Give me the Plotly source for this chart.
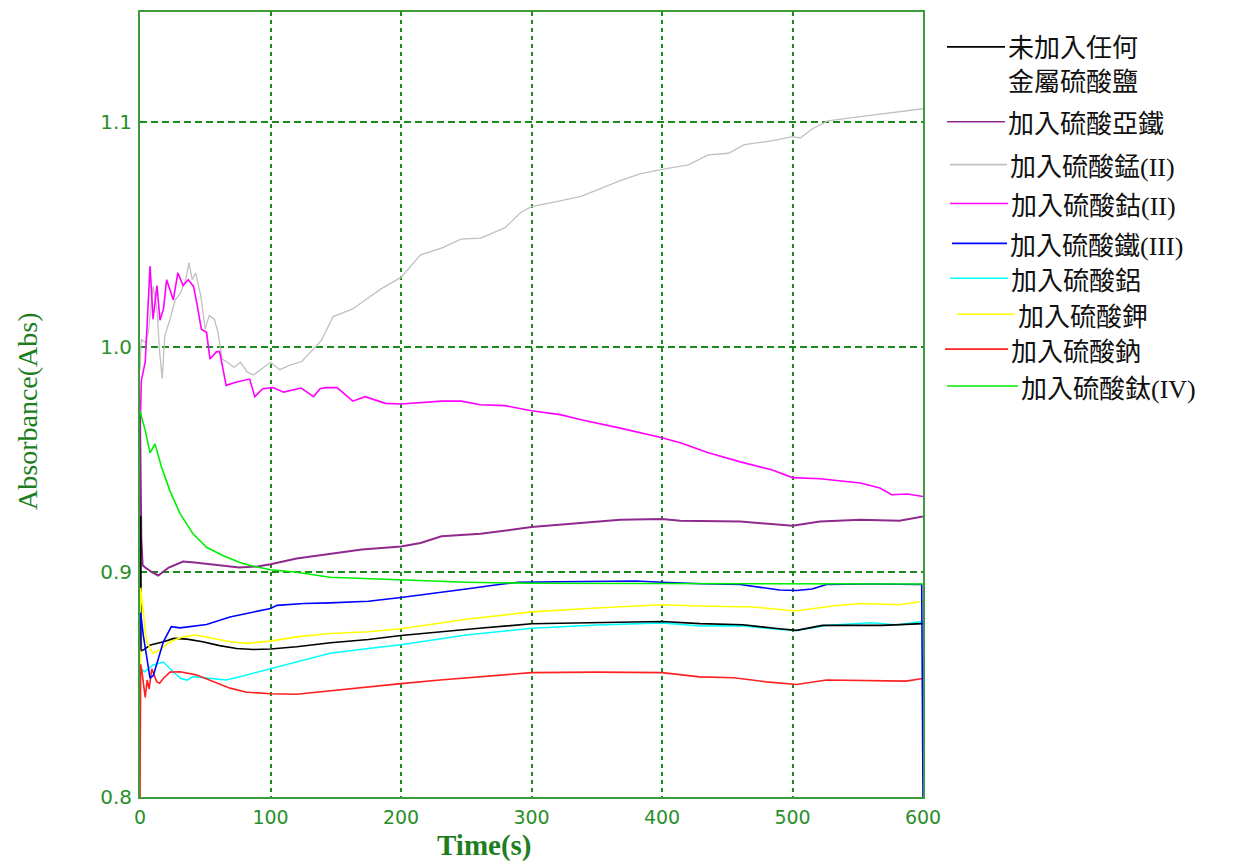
import plotly.graph_objects as go

# ---- data: absorbance vs time for each added sulfate ----
t_none = [0, 0.5, 1, 3, 8, 18, 26, 36, 48, 61, 74, 87, 100, 120, 146, 175, 200, 230, 260, 300, 340, 380, 400, 429, 462, 488, 503, 523, 569, 600]
a_none = [0.83, 0.925, 0.865, 0.8655, 0.8676, 0.869, 0.8705, 0.8702, 0.869, 0.8673, 0.866, 0.8656, 0.8658, 0.8668, 0.8686, 0.870, 0.8718, 0.8735, 0.875, 0.877, 0.8775, 0.8778, 0.878, 0.8771, 0.8766, 0.8749, 0.8741, 0.8763, 0.8763, 0.8771]

t_fe2 = [0, 0.5, 1, 2, 4, 9, 14, 22, 33, 42, 59, 76, 90, 100, 120, 146, 170, 200, 215, 231, 261, 300, 338, 368, 400, 414, 460, 500, 521, 552, 582, 600]
a_fe2 = [0.97, 0.94, 0.915, 0.903, 0.902, 0.900, 0.8985, 0.902, 0.9047, 0.9043, 0.9033, 0.902, 0.9025, 0.9035, 0.906, 0.908, 0.910, 0.9114, 0.9129, 0.9159, 0.917, 0.920, 0.9218, 0.9233, 0.9236, 0.9228, 0.9225, 0.9206, 0.9225, 0.9233, 0.9228, 0.9247]

t_mn = [0, 1, 4, 6.4, 10, 13, 15, 17, 19, 23, 27, 31, 35, 37.5, 40, 42.6, 46.5, 50, 53, 57, 59.7, 63, 67, 72, 77, 82, 87, 94.5, 100, 107, 115, 124, 133, 139, 148, 163, 175, 185, 200, 215, 231, 246, 261, 279.5, 292, 300, 322, 338, 368, 383, 400, 420, 435.5, 451, 463, 484, 500, 506, 515, 527, 552, 567, 582, 600]
a_mn = [0.99, 1.0035, 1.002, 1.0066, 1.027, 1.017, 0.998, 0.986, 1.005, 1.0124, 1.021, 1.024, 1.030, 1.0376, 1.030, 1.033, 1.023, 1.008, 1.014, 1.0124, 1.0066, 0.9947, 0.9933, 0.991, 0.9933, 0.989, 0.9876, 0.991, 0.9933, 0.990, 0.992, 0.9936, 0.999, 1.003, 1.0136, 1.017, 1.022, 1.026, 1.031, 1.041, 1.044, 1.048, 1.0485, 1.053, 1.060, 1.0625, 1.065, 1.067, 1.074, 1.077, 1.079, 1.081, 1.0855, 1.0862, 1.090, 1.0917, 1.0936, 1.093, 1.097, 1.1006, 1.1025, 1.1036, 1.105, 1.106]

t_co = [0, 1, 4, 7.7, 10, 13, 15.3, 18, 20.4, 25.5, 29, 33, 37, 41, 43.4, 47, 51, 53.6, 58.7, 61, 66, 74, 84, 88, 94, 102, 110, 123.5, 133, 138, 142, 151, 163, 172.5, 188, 200, 231, 246, 261, 279.5, 300, 322, 338, 368, 400, 414, 435.5, 460, 484, 500, 521, 552, 567, 576, 588, 600]
a_co = [0.96, 0.985, 0.9934, 1.036, 1.0124, 1.0274, 1.012, 1.017, 1.030, 1.021, 1.033, 1.0274, 1.030, 1.027, 1.020, 1.008, 1.0066, 0.9947, 0.998, 0.998, 0.983, 0.9845, 0.9858, 0.978, 0.9815, 0.982, 0.980, 0.9818, 0.978, 0.9815, 0.982, 0.982, 0.976, 0.978, 0.975, 0.9747, 0.976, 0.976, 0.9744, 0.974, 0.9717, 0.970, 0.9677, 0.964, 0.9597, 0.9575, 0.953, 0.949, 0.9455, 0.942, 0.9415, 0.9396, 0.9374, 0.9344, 0.9347, 0.9336]

t_fe3 = [0, 0.5, 2.5, 5, 7.7, 10.2, 12.8, 17.9, 24, 30.7, 51, 69, 81.7, 100, 105, 125.6, 145.6, 175, 200, 225, 250, 275, 290, 320, 350, 380, 400, 430, 460, 480, 490, 503, 515, 526, 560, 599, 600]
a_fe3 = [0.865, 0.882, 0.872, 0.863, 0.8528, 0.854, 0.8587, 0.869, 0.8757, 0.8752, 0.8767, 0.880, 0.8816, 0.8838, 0.8852, 0.886, 0.8863, 0.887, 0.8887, 0.8905, 0.8925, 0.8945, 0.8955, 0.8957, 0.896, 0.896, 0.8955, 0.8948, 0.8945, 0.893, 0.892, 0.8918, 0.8925, 0.8945, 0.8947, 0.8945, 0.80]

t_al = [0, 0.5, 3.6, 10, 18, 23, 31, 36, 41, 51, 66, 76.6, 100, 120, 145.6, 175, 200, 250, 300, 350, 400, 429, 460, 490, 503, 525, 560, 580, 600]
a_al = [0.8646, 0.857, 0.8557, 0.8587, 0.860, 0.857, 0.8528, 0.852, 0.8535, 0.8528, 0.852, 0.8535, 0.857, 0.860, 0.8639, 0.866, 0.8677, 0.872, 0.875, 0.8765, 0.8774, 0.876, 0.8762, 0.8745, 0.874, 0.8762, 0.8775, 0.8765, 0.8781]

t_k = [0, 0.5, 2, 5, 10, 15, 23, 33, 43, 53.6, 69, 81.7, 100, 120, 145.6, 175, 200, 250, 300, 350, 400, 429, 470, 502, 532, 552, 582, 600]
a_k = [0.80, 0.893, 0.885, 0.869, 0.8639, 0.8653, 0.869, 0.8712, 0.872, 0.8708, 0.869, 0.8683, 0.8693, 0.8712, 0.8727, 0.8735, 0.8748, 0.879, 0.8823, 0.884, 0.8855, 0.8849, 0.8845, 0.8827, 0.885, 0.886, 0.8855, 0.887]

t_na = [0, 0.5, 1.5, 3, 4, 5.5, 7, 9, 11, 12.8, 15, 18, 23, 30.7, 43, 53.6, 69, 81.7, 100, 120, 145.6, 175, 200, 230, 260, 300, 350, 400, 429, 455, 480, 503, 526, 569, 587, 600]
a_na = [0.80, 0.859, 0.8557, 0.850, 0.8443, 0.852, 0.848, 0.857, 0.854, 0.8513, 0.8506, 0.8528, 0.8555, 0.8557, 0.8543, 0.852, 0.8484, 0.8466, 0.8459, 0.8457, 0.8473, 0.849, 0.8504, 0.852, 0.8535, 0.8553, 0.8555, 0.8553, 0.8534, 0.853, 0.8512, 0.850, 0.852, 0.8515, 0.8515, 0.8527]

t_ti = [0, 4, 7.7, 11.5, 16.6, 23, 30.7, 40.6, 51, 63.8, 76.6, 84, 100, 120, 145.6, 175, 200, 250, 300, 400, 500, 600]
a_ti = [0.9716, 0.963, 0.953, 0.957, 0.9465, 0.936, 0.926, 0.917, 0.911, 0.9073, 0.9043, 0.903, 0.901, 0.8999, 0.8977, 0.897, 0.8965, 0.8955, 0.895, 0.8948, 0.8947, 0.8947]

names = ["未加入任何<br>金屬硫酸鹽", "加入硫酸亞鐵", "加入硫酸錳(II)", "加入硫酸鈷(II)",
         "加入硫酸鐵(III)", "加入硫酸鋁", "加入硫酸鉀", "加入硫酸鈉", "加入硫酸鈦(IV)"]
series_t = [t_none, t_fe2, t_mn, t_co, t_fe3, t_al, t_k, t_na, t_ti]
series_a = [a_none, a_fe2, a_mn, a_co, a_fe3, a_al, a_k, a_na, a_ti]
colors = ["#000000", "#8e2a8e", "#c0c0c0", "#ff00ff", "#0000ff", "#00ffff", "#ffff00", "#ff2020", "#00ee00"]
widths = [1.6, 2.0, 1.3, 1.6, 1.6, 1.6, 1.6, 1.6, 1.6]

# drawing order (later ones sit on top)
order = [2, 3, 1, 5, 0, 6, 7, 4, 8]

fig = go.Figure()
for i in order:
    fig.add_trace(go.Scatter(x=series_t[i], y=series_a[i], mode="lines", name=names[i],
                             line=dict(color=colors[i], width=widths[i])))

W, H = 1240, 863
L, R, T, B = 140, 317, 10, 66
pw, ph = W - L - R, H - T - B


def px(x):
    return (x - L) / pw


def py(y):
    return 1 - (y - T) / ph


def legend_label(name):
    # oxidation-state suffix is set in a serif face
    if "(" in name:
        head, tail = name.split("(", 1)
        return head + '<span style="font-family:Liberation Serif">(' + tail + "</span>"
    return name


green_axis = "#3c9c3c"
green_grid = "#1a8a1a"
green_text = "#2a8f2a"

fig.update_layout(
    width=W, height=H,
    margin=dict(l=L, r=R, t=T, b=B),
    plot_bgcolor="white", paper_bgcolor="white",
    showlegend=False,
    xaxis=dict(range=[0, 600], dtick=100, tick0=0,
               showgrid=True, gridcolor=green_grid, gridwidth=2, griddash="4px,4px",
               showline=True, linecolor=green_axis, linewidth=2, mirror=True,
               zeroline=False, ticks="", ticklabelstandoff=2, layer="below traces",
               tickfont=dict(family="DejaVu Sans", size=19, color=green_text)),
    yaxis=dict(range=[0.8, 1.149], tickvals=[0.8, 0.9, 1.0, 1.1], tickformat=".1f",
               showgrid=True, gridcolor=green_grid, gridwidth=2, griddash="7px,4px",
               showline=True, linecolor=green_axis, linewidth=2, mirror=True,
               zeroline=False, ticks="", ticklabelstandoff=2, layer="below traces",
               tickfont=dict(family="DejaVu Sans", size=20, color=green_text)),
)

fig.add_annotation(text="<b>Time(s)</b>", xref="paper", yref="paper",
                   x=px(484), y=py(846), xanchor="center", yanchor="middle", showarrow=False,
                   font=dict(family="Liberation Serif", size=29, color="#1e7e1e"))
fig.add_annotation(text="Absorbance(Abs)", xref="paper", yref="paper",
                   x=px(28), y=py(410), xanchor="center", yanchor="middle",
                   showarrow=False, textangle=-90,
                   font=dict(family="Liberation Serif", size=28, color="#1e7e1e"))

# legend panel on the right
leg_line_y = [45, 120, 163, 202, 242, 277, 313, 348, 385]
leg_x0 = [947, 947, 950, 950, 952, 950, 957, 945, 947]
leg_x1 = [1005, 1005, 1007, 1008, 1007, 1008, 1015, 1008, 1018]
for i in range(len(names)):
    fig.add_shape(type="line", xref="paper", yref="paper",
                  x0=px(leg_x0[i]), x1=px(leg_x1[i]), y0=py(leg_line_y[i]), y1=py(leg_line_y[i]),
                  line=dict(color=colors[i], width=1.6))
    ty = leg_line_y[i] + (16 if i == 0 else 0)
    fig.add_annotation(text=legend_label(names[i]), xref="paper", yref="paper",
                       x=px(leg_x1[i] + 1), y=py(ty), xanchor="left", yanchor="middle",
                       align="left", showarrow=False,
                       font=dict(family="Noto Sans CJK TC", size=26, color="#111111"))

fig.write_html("out.html")
